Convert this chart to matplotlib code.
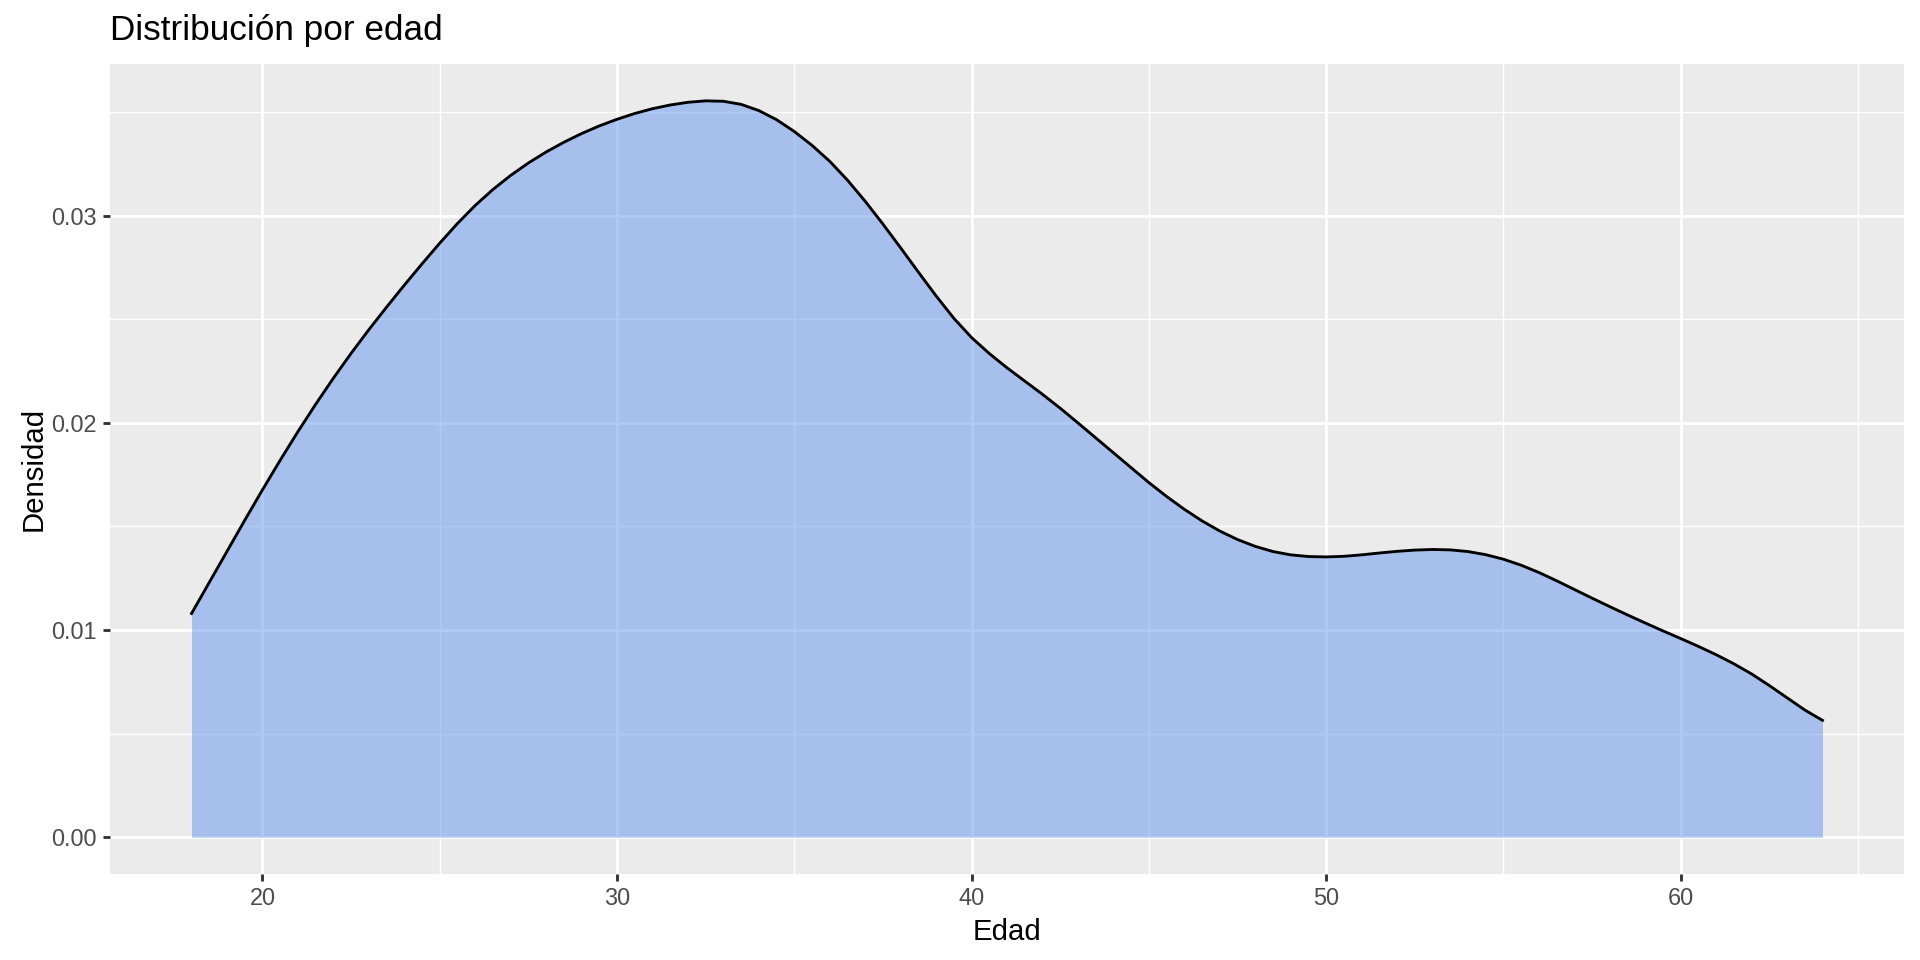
import matplotlib.pyplot as plt
import numpy as np
from matplotlib.ticker import MultipleLocator

# densidad estimada (cada 0.5 años, de 18 a 64)
edad = np.arange(18, 64.5, 0.5)
densidad = [
    0.01080, 0.01230, 0.01380, 0.01530, 0.01677, 0.01820, 0.01958, 0.02090,
    0.02216, 0.02336, 0.02450, 0.02559, 0.02665, 0.02768, 0.02868, 0.02963,
    0.03050, 0.03127, 0.03195, 0.03255, 0.03308, 0.03355, 0.03397, 0.03434,
    0.03466, 0.03494, 0.03517, 0.03535, 0.03548, 0.03555, 0.03553, 0.03538,
    0.03508, 0.03464, 0.03407, 0.03340, 0.03263, 0.03172, 0.03070, 0.02960,
    0.02845, 0.02728, 0.02613, 0.02505, 0.02412, 0.02335, 0.02266, 0.02202,
    0.02138, 0.02071, 0.02000, 0.01928, 0.01856, 0.01784, 0.01712, 0.01645,
    0.01583, 0.01527, 0.01478, 0.01437, 0.01404, 0.01379, 0.01363, 0.01355,
    0.01353, 0.01356, 0.01363, 0.01372, 0.01380, 0.01386, 0.01389, 0.01387,
    0.01379, 0.01364, 0.01342, 0.01313, 0.01278, 0.01238, 0.01196, 0.01154,
    0.01113, 0.01073, 0.01034, 0.00996, 0.00959, 0.00921, 0.00881, 0.00837,
    0.00788, 0.00732, 0.00673, 0.00614, 0.00564,
]
x_ticks = [20, 30, 40, 50, 60]
y_ticks = [0.00, 0.01, 0.02, 0.03]

plt.rcParams['font.family'] = ['Liberation Sans', 'DejaVu Sans']

fig = plt.figure(figsize=(10, 5), dpi=192)
ax = fig.add_axes([0.0573, 0.0896, 0.9344, 0.8437])
ax.set_facecolor('#EBEBEB')

ax.fill_between(edad, densidad, color='cornflowerblue', alpha=0.5, linewidth=0, zorder=2)
ax.plot(edad, densidad, color='black', lw=1.07, zorder=3)

# escalas con la expansión del 5% de ggplot
xr = edad.max() - edad.min()
ax.set_xlim(edad.min() - 0.05 * xr, edad.max() + 0.05 * xr)
ymax = max(densidad)
ax.set_ylim(-0.05 * ymax, 1.05 * ymax)

ax.set_xticks(x_ticks)
ax.set_xticklabels([str(t) for t in x_ticks])
ax.set_yticks(y_ticks)
ax.set_yticklabels([f'{t:.2f}' for t in y_ticks])
ax.xaxis.set_minor_locator(MultipleLocator(5))
ax.yaxis.set_minor_locator(MultipleLocator(0.005))

ax.set_axisbelow(True)
ax.grid(which='major', color='white', lw=1.07)
ax.grid(which='minor', color='white', lw=0.53)
for s in ax.spines.values():
    s.set_visible(False)

ax.tick_params(which='major', length=2.75, width=1.07, color='#333333',
               labelcolor='#4D4D4D', labelsize=8.8, pad=2.2)
ax.tick_params(which='minor', length=0)

ax.set_xlabel('Edad', fontsize=11, labelpad=2.75)
ax.set_ylabel('Densidad', fontsize=11, labelpad=1.5)
fig.text(0.0573, 0.958, 'Distribución por edad', fontsize=13.2, ha='left', va='baseline')

fig.savefig('out.png', dpi=192)
